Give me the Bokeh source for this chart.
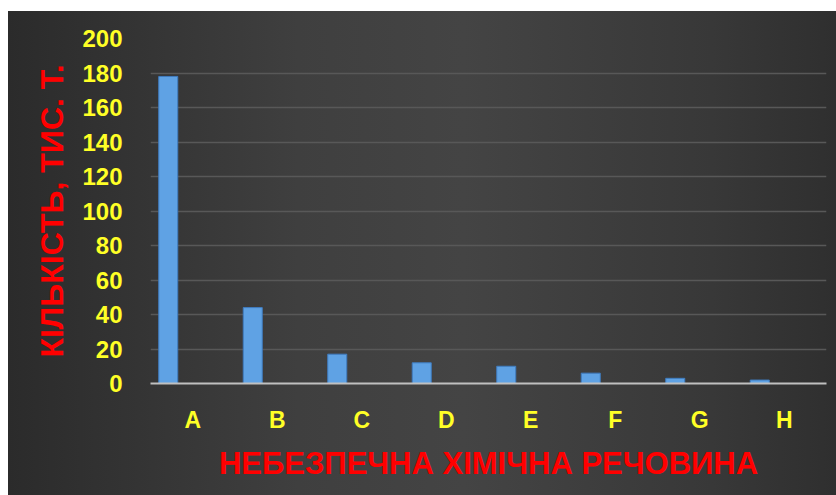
from bokeh.plotting import figure
from bokeh.models import ColumnDataSource, FactorRange, FixedTicker, Range1d, Spacer
from bokeh.layouts import column, row
from bokeh.transform import dodge
from bokeh.embed import file_html
from bokeh.resources import INLINE

categories = ["A", "B", "C", "D", "E", "F", "G", "H"]
values = [178, 44, 17, 12, 10, 6, 3, 2]
y_ticks = [0, 20, 40, 60, 80, 100, 120, 140, 160, 180, 200]
x_title = "НЕБЕЗПЕЧНА ХІМІЧНА РЕЧОВИНА"
y_title = "КІЛЬКІСТЬ, ТИС. Т."

BG = "#3a3a3a"
YELLOW = "#ffff26"
RED = "#ff0000"
FONT = "Liberation Sans"

source = ColumnDataSource(data=dict(cat=categories, val=values))

p = figure(
    width=828, height=484,
    x_range=FactorRange(factors=categories),
    y_range=Range1d(0, 200),
    output_backend="svg", toolbar_location=None,
    min_border_left=142, min_border_right=10,
    min_border_top=27, min_border_bottom=112,
)
p.styles = {"background": "linear-gradient(90deg, #2b2b2b 0%, #3f3f3f 35%, #444444 55%, #383838 85%, #2f2f2f 100%)"}
p.background_fill_color = None
p.border_fill_color = None
p.outline_line_color = None

p.vbar(x=dodge("cat", -0.29, range=p.x_range), top="val", width=0.225,
       source=source, fill_color="#5fa2e4", line_color="#3f7cc0", line_width=1)

# grid
p.xgrid.visible = False
p.ygrid.grid_line_color = "#585858"
p.ygrid.grid_line_width = 1.5
p.yaxis.ticker = FixedTicker(ticks=y_ticks)

# y axis
p.yaxis.axis_line_color = None
p.yaxis.major_tick_line_color = None
p.yaxis.minor_tick_line_color = None
p.yaxis.major_tick_out = 0
p.yaxis.major_tick_in = 0
p.yaxis.major_label_standoff = 28
p.yaxis.major_label_text_color = YELLOW
p.yaxis.major_label_text_font = FONT
p.yaxis.major_label_text_font_style = "bold"
p.yaxis.major_label_text_font_size = "24px"
p.yaxis.axis_label = y_title
p.yaxis.axis_label_text_color = RED
p.yaxis.axis_label_text_font = FONT
p.yaxis.axis_label_text_font_style = "bold"
p.yaxis.axis_label_text_font_size = "32px"
p.yaxis.axis_label_standoff = 9

# x axis
p.xaxis.axis_line_color = "#c0c0c0"
p.xaxis.axis_line_width = 2
p.xaxis.major_tick_line_color = None
p.xaxis.minor_tick_line_color = None
p.xaxis.major_tick_out = 0
p.xaxis.major_tick_in = 0
p.xaxis.major_label_standoff = 23
p.xaxis.major_label_text_color = YELLOW
p.xaxis.major_label_text_font = FONT
p.xaxis.major_label_text_font_style = "bold"
p.xaxis.major_label_text_font_size = "23px"
p.xaxis.axis_label = x_title
p.xaxis.axis_label_text_color = RED
p.xaxis.axis_label_text_font = FONT
p.xaxis.axis_label_text_font_style = "bold"
p.xaxis.axis_label_text_font_size = "31px"
p.xaxis.axis_label_standoff = 10

layout = column(Spacer(height=11, width=836),
                row(Spacer(width=8, height=484), p, spacing=0),
                spacing=0)
open("out.html", "w").write(file_html(layout, INLINE))
